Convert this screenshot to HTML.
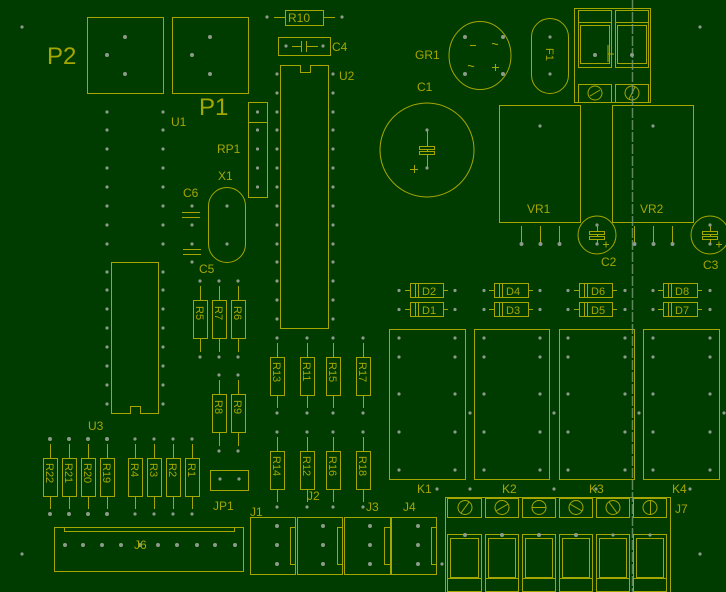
<!DOCTYPE html>
<html><head><meta charset="utf-8"><style>
html,body{margin:0;padding:0;background:#003c00;}
svg{display:block;}
text{font-family:"Liberation Sans",sans-serif;fill:#a6a600;}
</style></head><body>
<svg width="726" height="592" viewBox="0 0 726 592" xmlns="http://www.w3.org/2000/svg">
<rect width="726" height="592" fill="#003c00"/>
<g fill="none" stroke="#a6a600" stroke-width="1">
<!-- P2 P1 -->
<rect x="87.5" y="17.5" width="76" height="76"/>
<rect x="172.5" y="17.5" width="76" height="76"/>
<!-- R10 -->
<rect x="285.5" y="10.5" width="38" height="15"/>
<line x1="274" y1="17.5" x2="285" y2="17.5"/><line x1="323" y1="17.5" x2="335" y2="17.5"/>
<!-- C4 -->
<rect x="278.5" y="37.5" width="52" height="18"/>
<line x1="292" y1="46.5" x2="301" y2="46.5"/><line x1="301.5" y1="41" x2="301.5" y2="52"/><line x1="306.5" y1="41" x2="306.5" y2="52"/><line x1="307" y1="46.5" x2="318" y2="46.5"/>
<!-- U2 -->
<path d="M280.5 65.5 H300.5 V72.5 H310.5 V65.5 H328.5 V328.5 H280.5 Z"/>
<!-- RP1 -->
<rect x="248.5" y="102.5" width="19" height="95"/><line x1="248" y1="122.5" x2="267" y2="122.5"/>
<!-- X1 -->
<rect x="208.5" y="187.5" width="37" height="75" rx="18.5"/>
<!-- C6 C5 -->
<line x1="182" y1="212.5" x2="200" y2="212.5"/><line x1="182" y1="217.5" x2="200" y2="217.5"/>
<line x1="183" y1="249.5" x2="201" y2="249.5"/><line x1="183" y1="254.5" x2="201" y2="254.5"/>
<!-- U3 -->
<path d="M111.5 262.5 H158.5 V413.5 H140.5 V406.5 H130.5 V413.5 H111.5 Z"/>
<!-- resistors -->
<g id="res">
<path d="M200.5 286V300M200.5 338V352M219.5 286V300M219.5 338V352M238.5 286V300M238.5 338V352"/>
<rect x="193.5" y="300.5" width="14" height="38"/><rect x="212.5" y="300.5" width="14" height="38"/><rect x="231.5" y="300.5" width="14" height="38"/>
<path d="M219.5 380V394M219.5 432V446M238.5 380V394M238.5 432V446"/>
<rect x="212.5" y="394.5" width="14" height="38"/><rect x="231.5" y="394.5" width="14" height="38"/>
<path d="M277.5 343V357M277.5 395V408M307.5 343V357M307.5 395V408M333.5 343V357M333.5 395V408M363.5 343V357M363.5 395V408"/>
<rect x="270.5" y="357.5" width="14" height="38"/><rect x="300.5" y="357.5" width="14" height="38"/><rect x="326.5" y="357.5" width="14" height="38"/><rect x="356.5" y="357.5" width="14" height="38"/>
<path d="M277.5 437V451M277.5 489V502M307.5 437V451M307.5 489V502M333.5 437V451M333.5 489V502M363.5 437V451M363.5 489V502"/>
<rect x="270.5" y="451.5" width="14" height="38"/><rect x="300.5" y="451.5" width="14" height="38"/><rect x="326.5" y="451.5" width="14" height="38"/><rect x="356.5" y="451.5" width="14" height="38"/>
<path d="M50.5 444V458M50.5 496V509M69.5 444V458M69.5 496V509M88.5 444V458M88.5 496V509M107.5 444V458M107.5 496V509M135.5 444V458M135.5 496V509M154.5 444V458M154.5 496V509M173.5 444V458M173.5 496V509M192.5 444V458M192.5 496V509"/>
<rect x="43.5" y="458.5" width="14" height="38"/><rect x="62.5" y="458.5" width="14" height="38"/><rect x="81.5" y="458.5" width="14" height="38"/><rect x="100.5" y="458.5" width="14" height="38"/>
<rect x="128.5" y="458.5" width="14" height="38"/><rect x="147.5" y="458.5" width="14" height="38"/><rect x="166.5" y="458.5" width="14" height="38"/><rect x="185.5" y="458.5" width="14" height="38"/>
</g>
<!-- JP1 -->
<rect x="210.5" y="470.5" width="38" height="20"/>
<!-- J6 -->
<rect x="54.5" y="527.5" width="189" height="44"/><rect x="64.5" y="527.5" width="170" height="4"/>
<!-- J1-J4 -->
<rect x="250.5" y="517.5" width="45" height="57"/><rect x="290.5" y="527.5" width="5" height="37"/>
<rect x="297.5" y="517.5" width="45" height="57"/><rect x="337.5" y="527.5" width="5" height="37"/>
<rect x="344.5" y="517.5" width="46" height="57"/><rect x="384.5" y="527.5" width="6" height="37"/>
<rect x="391.5" y="517.5" width="45" height="57"/><rect x="431.5" y="527.5" width="5" height="37"/>
<!-- GR1 -->
<ellipse cx="480" cy="55.5" rx="31" ry="34"/>
<path d="M470 45.5h6M468 66c2-2 4 2 6 0M492 67.5h7M495.5 64v7M492 44c2-2 4 2 6 0"/>
<!-- F1 -->
<rect x="531.5" y="18.5" width="37" height="75" rx="18.5"/>
<!-- top right connector -->
<rect x="574.5" y="8.5" width="76" height="94"/>
<rect x="578.5" y="10.5" width="33" height="57"/><line x1="578" y1="22.5" x2="611" y2="22.5"/><rect x="580.5" y="25.5" width="29" height="38"/>
<rect x="615.5" y="10.5" width="33" height="57"/><line x1="615" y1="22.5" x2="648" y2="22.5"/><rect x="617.5" y="25.5" width="29" height="38"/>
<rect x="578.5" y="84.5" width="33" height="18"/><rect x="615.5" y="84.5" width="33" height="18"/>
<circle cx="595" cy="93" r="7"/><line x1="590" y1="96" x2="600" y2="90"/>
<circle cx="632" cy="93" r="7"/><line x1="629" y1="99" x2="635" y2="87"/>
<path d="M608 45v17M608 54h6"/>
<!-- C1 -->
<circle cx="427" cy="150" r="47"/>
<line x1="427.5" y1="130" x2="427.5" y2="168"/>
<rect x="419.5" y="146.5" width="15" height="3" fill="#003c00"/><rect x="419.5" y="151.5" width="15" height="3" fill="#003c00"/>
<path d="M410 169.5h8M414.5 165v8"/>
<!-- VR1 VR2 -->
<rect x="499.5" y="105.5" width="81" height="117"/><rect x="612.5" y="105.5" width="81" height="117"/>
<path d="M521.5 226V244M540.5 226V244M559.5 226V244M634.5 226V244M653.5 226V244M672.5 226V244"/>
<!-- C2 C3 -->
<circle cx="597" cy="235" r="19"/><circle cx="710" cy="235" r="19"/>
<path d="M597.5 225V245M710.5 225V245"/>
<rect x="589.5" y="231.5" width="15" height="3" fill="#003c00"/><rect x="589.5" y="236.5" width="15" height="3" fill="#003c00"/>
<rect x="702.5" y="231.5" width="15" height="3" fill="#003c00"/><rect x="702.5" y="236.5" width="15" height="3" fill="#003c00"/>
<path d="M603 244.5h6M606 241.5v6M716 244.5h6M719 241.5v6"/>
<!-- diodes -->
<g>
<rect x="410.5" y="283.5" width="33" height="14"/><path d="M405 290.5h5M443 290.5h5M415.5 284v13M418.5 284v13"/>
<rect x="494.5" y="283.5" width="34" height="14"/><path d="M489 290.5h5M528 290.5h5M499.5 284v13M502.5 284v13"/>
<rect x="579.5" y="283.5" width="33" height="14"/><path d="M574 290.5h5M612 290.5h5M584.5 284v13M587.5 284v13"/>
<rect x="663.5" y="283.5" width="34" height="14"/><path d="M658 290.5h5M697 290.5h5M668.5 284v13M671.5 284v13"/>
<rect x="410.5" y="302.5" width="33" height="14"/><path d="M405 309.5h5M443 309.5h5M415.5 303v13M418.5 303v13"/>
<rect x="494.5" y="302.5" width="34" height="14"/><path d="M489 309.5h5M528 309.5h5M499.5 303v13M502.5 303v13"/>
<rect x="579.5" y="302.5" width="33" height="14"/><path d="M574 309.5h5M612 309.5h5M584.5 303v13M587.5 303v13"/>
<rect x="663.5" y="302.5" width="34" height="14"/><path d="M658 309.5h5M697 309.5h5M668.5 303v13M671.5 303v13"/>
</g>
<!-- relays -->
<rect x="389.5" y="329.5" width="76" height="150"/><rect x="474.5" y="329.5" width="75" height="150"/>
<rect x="559.5" y="329.5" width="75" height="150"/><rect x="643.5" y="329.5" width="76" height="150"/>
<!-- J7 -->
<rect x="445.5" y="497.5" width="225" height="96"/>
<g>
<rect x="447.5" y="498.5" width="34" height="19"/><rect x="485.5" y="498.5" width="33" height="19"/><rect x="522.5" y="498.5" width="33" height="19"/>
<rect x="559.5" y="498.5" width="33" height="19"/><rect x="596.5" y="498.5" width="33" height="19"/><rect x="633.5" y="498.5" width="33" height="19"/>
<circle cx="465" cy="507.5" r="7"/><line x1="461" y1="513" x2="469" y2="502"/>
<circle cx="502" cy="507.5" r="7"/><line x1="496" y1="511" x2="508" y2="504"/>
<circle cx="539" cy="507.5" r="7"/><line x1="532" y1="507.5" x2="546" y2="507.5"/>
<circle cx="576" cy="507.5" r="7"/><line x1="570" y1="504" x2="582" y2="511"/>
<circle cx="613" cy="507.5" r="7"/><line x1="609" y1="502" x2="617" y2="513"/>
<circle cx="650" cy="507.5" r="7"/><line x1="650.5" y1="500" x2="650.5" y2="515"/>
</g>
<g>
<rect x="447.5" y="534.5" width="34" height="57"/><rect x="450.5" y="538.5" width="28" height="39"/><line x1="447" y1="578.5" x2="481" y2="578.5"/>
<rect x="485.5" y="534.5" width="33" height="57"/><rect x="488.5" y="538.5" width="27" height="39"/><line x1="485" y1="578.5" x2="518" y2="578.5"/>
<rect x="522.5" y="534.5" width="33" height="57"/><rect x="525.5" y="538.5" width="27" height="39"/><line x1="522" y1="578.5" x2="555" y2="578.5"/>
<rect x="559.5" y="534.5" width="33" height="57"/><rect x="562.5" y="538.5" width="27" height="39"/><line x1="559" y1="578.5" x2="592" y2="578.5"/>
<rect x="596.5" y="534.5" width="33" height="57"/><rect x="599.5" y="538.5" width="27" height="39"/><line x1="596" y1="578.5" x2="629" y2="578.5"/>
<rect x="633.5" y="534.5" width="33" height="57"/><rect x="636.5" y="538.5" width="27" height="39"/><line x1="633" y1="578.5" x2="666" y2="578.5"/>
</g>
</g>
<!-- dashed vertical line -->
<line x1="632.5" y1="0" x2="632.5" y2="592" stroke="#7a9a7a" stroke-width="1.5" stroke-dasharray="10,2" opacity="0.8"/>
<!-- pads -->
<g fill="#8c9a8c">
<circle cx="22" cy="27" r="1.6"/><circle cx="22" cy="554" r="1.6"/><circle cx="700" cy="27" r="1.6"/><circle cx="700" cy="554" r="1.6"/><circle cx="442" cy="564" r="1.6"/>
<circle cx="125" cy="37" r="2"/><circle cx="107" cy="55" r="2"/><circle cx="125" cy="74" r="2"/>
<circle cx="210" cy="37" r="2"/><circle cx="192" cy="55" r="2"/><circle cx="210" cy="74" r="2"/>
<circle cx="267" cy="17" r="1.6"/><circle cx="342" cy="17" r="1.6"/><circle cx="286" cy="46" r="1.6"/><circle cx="323" cy="46" r="1.6"/>
<circle cx="257.5" cy="112" r="1.6"/><circle cx="257.5" cy="130" r="1.6"/><circle cx="257.5" cy="149" r="1.6"/><circle cx="257.5" cy="168" r="1.6"/><circle cx="257.5" cy="187" r="1.6"/>
<circle cx="227" cy="206" r="1.6"/><circle cx="227" cy="244" r="1.6"/>
<circle cx="192" cy="206" r="1.6"/><circle cx="192" cy="225" r="1.6"/><circle cx="192" cy="244" r="1.6"/><circle cx="192" cy="262" r="1.6"/>
<!-- U2 pins -->
<g>
<circle cx="277" cy="74" r="1.6"/><circle cx="277" cy="93" r="1.6"/><circle cx="277" cy="112" r="1.6"/><circle cx="277" cy="130" r="1.6"/><circle cx="277" cy="149" r="1.6"/><circle cx="277" cy="168" r="1.6"/><circle cx="277" cy="187" r="1.6"/><circle cx="277" cy="206" r="1.6"/><circle cx="277" cy="225" r="1.6"/><circle cx="277" cy="244" r="1.6"/><circle cx="277" cy="262" r="1.6"/><circle cx="277" cy="281" r="1.6"/><circle cx="277" cy="300" r="1.6"/><circle cx="277" cy="319" r="1.6"/>
<circle cx="333" cy="74" r="1.6"/><circle cx="333" cy="93" r="1.6"/><circle cx="333" cy="112" r="1.6"/><circle cx="333" cy="130" r="1.6"/><circle cx="333" cy="149" r="1.6"/><circle cx="333" cy="168" r="1.6"/><circle cx="333" cy="187" r="1.6"/><circle cx="333" cy="206" r="1.6"/><circle cx="333" cy="225" r="1.6"/><circle cx="333" cy="244" r="1.6"/><circle cx="333" cy="262" r="1.6"/><circle cx="333" cy="281" r="1.6"/><circle cx="333" cy="300" r="1.6"/><circle cx="333" cy="319" r="1.6"/>
</g>
<!-- U1 + U3 pins -->
<g>
<circle cx="107" cy="112" r="1.6"/><circle cx="107" cy="130" r="1.6"/><circle cx="107" cy="149" r="1.6"/><circle cx="107" cy="168" r="1.6"/><circle cx="107" cy="187" r="1.6"/><circle cx="107" cy="206" r="1.6"/><circle cx="107" cy="225" r="1.6"/><circle cx="107" cy="244" r="1.6"/>
<circle cx="163" cy="112" r="1.6"/><circle cx="163" cy="130" r="1.6"/><circle cx="163" cy="149" r="1.6"/><circle cx="163" cy="168" r="1.6"/><circle cx="163" cy="187" r="1.6"/><circle cx="163" cy="206" r="1.6"/><circle cx="163" cy="225" r="1.6"/><circle cx="163" cy="244" r="1.6"/>
<circle cx="107" cy="272" r="1.6"/><circle cx="107" cy="290" r="1.6"/><circle cx="107" cy="309" r="1.6"/><circle cx="107" cy="328" r="1.6"/><circle cx="107" cy="347" r="1.6"/><circle cx="107" cy="366" r="1.6"/><circle cx="107" cy="385" r="1.6"/><circle cx="107" cy="404" r="1.6"/>
<circle cx="163" cy="272" r="1.6"/><circle cx="163" cy="290" r="1.6"/><circle cx="163" cy="309" r="1.6"/><circle cx="163" cy="328" r="1.6"/><circle cx="163" cy="347" r="1.6"/><circle cx="163" cy="366" r="1.6"/><circle cx="163" cy="385" r="1.6"/><circle cx="163" cy="404" r="1.6"/>
</g>
<!-- resistor pads -->
<g>
<circle cx="200" cy="281" r="1.6"/><circle cx="219" cy="281" r="1.6"/><circle cx="238" cy="281" r="1.6"/>
<circle cx="200" cy="357" r="1.6"/><circle cx="219" cy="357" r="1.6"/><circle cx="238" cy="357" r="1.6"/>
<circle cx="219" cy="375" r="1.6"/><circle cx="238" cy="375" r="1.6"/><circle cx="219" cy="451" r="1.6"/><circle cx="238" cy="451" r="1.6"/>
<circle cx="277" cy="338" r="1.6"/><circle cx="307" cy="338" r="1.6"/><circle cx="333" cy="338" r="1.6"/><circle cx="363" cy="338" r="1.6"/>
<circle cx="277" cy="413" r="1.6"/><circle cx="307" cy="413" r="1.6"/><circle cx="333" cy="413" r="1.6"/><circle cx="363" cy="413" r="1.6"/>
<circle cx="277" cy="432" r="1.6"/><circle cx="307" cy="432" r="1.6"/><circle cx="333" cy="432" r="1.6"/><circle cx="363" cy="432" r="1.6"/>
<circle cx="277" cy="507" r="1.6"/><circle cx="307" cy="507" r="1.6"/><circle cx="333" cy="507" r="1.6"/><circle cx="363" cy="507" r="1.6"/>
<circle cx="50" cy="439" r="2"/><circle cx="69" cy="439" r="2"/><circle cx="88" cy="439" r="2"/><circle cx="107" cy="439" r="2"/>
<circle cx="135" cy="439" r="1.6"/><circle cx="154" cy="439" r="1.6"/><circle cx="173" cy="439" r="1.6"/><circle cx="192" cy="439" r="1.6"/>
<circle cx="50" cy="514" r="2"/><circle cx="69" cy="514" r="2"/><circle cx="88" cy="514" r="2"/><circle cx="107" cy="514" r="2"/>
<circle cx="135" cy="514" r="1.6"/><circle cx="154" cy="514" r="1.6"/><circle cx="173" cy="514" r="1.6"/><circle cx="192" cy="514" r="1.6"/>
<circle cx="220" cy="479" r="1.6"/><circle cx="239" cy="479" r="1.6"/>
</g>
<!-- J6 -->
<g>
<circle cx="65" cy="545" r="2"/><circle cx="83" cy="545" r="2"/><circle cx="102" cy="545" r="2"/><circle cx="121" cy="545" r="2"/><circle cx="140" cy="545" r="2"/><circle cx="158" cy="545" r="2"/><circle cx="177" cy="545" r="2"/><circle cx="197" cy="545" r="2"/><circle cx="215" cy="545" r="2"/><circle cx="235" cy="545" r="2"/>
</g>
<!-- J1-J4 -->
<g>
<circle cx="277" cy="526" r="2"/><circle cx="277" cy="545" r="2"/><circle cx="277" cy="564" r="2"/>
<circle cx="323" cy="526" r="2"/><circle cx="323" cy="545" r="2"/><circle cx="323" cy="564" r="2"/>
<circle cx="370" cy="526" r="2"/><circle cx="370" cy="545" r="2"/><circle cx="370" cy="564" r="2"/>
<circle cx="418" cy="526" r="2"/><circle cx="418" cy="545" r="2"/><circle cx="418" cy="564" r="2"/>
</g>
<!-- right side -->
<circle cx="465" cy="37" r="2"/><circle cx="503" cy="37" r="2"/><circle cx="465" cy="74" r="2"/><circle cx="503" cy="74" r="2"/>
<circle cx="550" cy="37" r="1.6"/><circle cx="550" cy="74" r="1.6"/>
<circle cx="595" cy="55" r="2"/><circle cx="632" cy="55" r="2"/>
<circle cx="427" cy="130" r="1.6"/><circle cx="427" cy="168" r="1.6"/>
<circle cx="540" cy="126" r="1.6"/><circle cx="653" cy="126" r="1.6"/>
<circle cx="521.5" cy="244" r="2"/><circle cx="540.5" cy="244" r="2"/><circle cx="559.5" cy="244" r="2"/>
<circle cx="634.5" cy="244" r="2"/><circle cx="653.5" cy="244" r="2"/><circle cx="672.5" cy="244" r="2"/>
<circle cx="597" cy="225" r="1.6"/><circle cx="597" cy="244" r="1.6"/><circle cx="710" cy="225" r="1.6"/><circle cx="710" cy="244" r="1.6"/>
<circle cx="399" cy="290.5" r="1.6"/><circle cx="455" cy="290.5" r="1.6"/><circle cx="484" cy="290.5" r="1.6"/><circle cx="540" cy="290.5" r="1.6"/><circle cx="568" cy="290.5" r="1.6"/><circle cx="625" cy="290.5" r="1.6"/><circle cx="653" cy="290.5" r="1.6"/><circle cx="710" cy="290.5" r="1.6"/>
<circle cx="399" cy="309.5" r="1.6"/><circle cx="455" cy="309.5" r="1.6"/><circle cx="484" cy="309.5" r="1.6"/><circle cx="540" cy="309.5" r="1.6"/><circle cx="568" cy="309.5" r="1.6"/><circle cx="625" cy="309.5" r="1.6"/><circle cx="653" cy="309.5" r="1.6"/><circle cx="710" cy="309.5" r="1.6"/>
<g>
<circle cx="399" cy="338" r="1.6"/><circle cx="399" cy="357" r="1.6"/><circle cx="399" cy="394" r="1.6"/><circle cx="399" cy="432" r="1.6"/><circle cx="399" cy="470" r="1.6"/>
<circle cx="455" cy="338" r="1.6"/><circle cx="455" cy="357" r="1.6"/><circle cx="455" cy="394" r="1.6"/><circle cx="455" cy="432" r="1.6"/><circle cx="455" cy="470" r="1.6"/>
<circle cx="484" cy="338" r="1.6"/><circle cx="484" cy="357" r="1.6"/><circle cx="484" cy="394" r="1.6"/><circle cx="484" cy="432" r="1.6"/><circle cx="484" cy="470" r="1.6"/>
<circle cx="540" cy="338" r="1.6"/><circle cx="540" cy="357" r="1.6"/><circle cx="540" cy="394" r="1.6"/><circle cx="540" cy="432" r="1.6"/><circle cx="540" cy="470" r="1.6"/>
<circle cx="568" cy="338" r="1.6"/><circle cx="568" cy="357" r="1.6"/><circle cx="568" cy="394" r="1.6"/><circle cx="568" cy="432" r="1.6"/><circle cx="568" cy="470" r="1.6"/>
<circle cx="625" cy="338" r="1.6"/><circle cx="625" cy="357" r="1.6"/><circle cx="625" cy="394" r="1.6"/><circle cx="625" cy="432" r="1.6"/><circle cx="625" cy="470" r="1.6"/>
<circle cx="653" cy="338" r="1.6"/><circle cx="653" cy="357" r="1.6"/><circle cx="653" cy="394" r="1.6"/><circle cx="653" cy="432" r="1.6"/><circle cx="653" cy="470" r="1.6"/>
<circle cx="710" cy="338" r="1.6"/><circle cx="710" cy="357" r="1.6"/><circle cx="710" cy="394" r="1.6"/><circle cx="710" cy="432" r="1.6"/><circle cx="710" cy="470" r="1.6"/>
<circle cx="470" cy="413" r="1.6"/><circle cx="554" cy="413" r="1.6"/><circle cx="639" cy="413" r="1.6"/><circle cx="724" cy="413" r="1.6"/>
<circle cx="437" cy="489" r="1.6"/><circle cx="470" cy="489" r="1.6"/><circle cx="554" cy="489" r="1.6"/><circle cx="596" cy="489" r="1.6"/><circle cx="690" cy="489" r="1.6"/>
</g>
<circle cx="465" cy="535" r="2"/><circle cx="502" cy="535" r="2"/><circle cx="539" cy="535" r="2"/><circle cx="576" cy="535" r="2"/><circle cx="613" cy="535" r="1.6"/><circle cx="650" cy="535" r="1.6"/>
</g>
<!-- labels -->
<g font-size="12">
<text x="47" y="64" font-size="24">P2</text>
<text x="199" y="115" font-size="24">P1</text>
<text x="288" y="22" font-size="12">R10</text>
<text x="332" y="51">C4</text>
<text x="339" y="80">U2</text>
<text x="171" y="126">U1</text>
<text x="217" y="153">RP1</text>
<text x="218" y="180">X1</text>
<text x="183" y="197">C6</text>
<text x="199" y="273">C5</text>
<text x="88" y="430">U3</text>
<text x="213" y="510">JP1</text>
<text x="250" y="516">J1</text>
<text x="307" y="500">J2</text>
<text x="366" y="511">J3</text>
<text x="403" y="511">J4</text>
<text x="134" y="549">J6</text>
<text x="415" y="59">GR1</text>
<text x="417" y="91">C1</text>
<text x="527" y="213">VR1</text>
<text x="640" y="213">VR2</text>
<text x="601" y="266">C2</text>
<text x="703" y="269">C3</text>
<text x="675" y="513">J7</text>
<text x="417" y="493">K1</text>
<text x="502" y="493">K2</text>
<text x="589" y="493">K3</text>
<text x="672" y="493">K4</text>
<g font-size="11">
<text x="422" y="295">D2</text><text x="506" y="295">D4</text><text x="591" y="295">D6</text><text x="675" y="295">D8</text>
<text x="422" y="314">D1</text><text x="506" y="314">D3</text><text x="591" y="314">D5</text><text x="675" y="314">D7</text>
</g>
<g font-size="11">
<text transform="translate(196,306) rotate(90)">R5</text>
<text transform="translate(215,306) rotate(90)">R7</text>
<text transform="translate(234,306) rotate(90)">R6</text>
<text transform="translate(215,400) rotate(90)">R8</text>
<text transform="translate(234,400) rotate(90)">R9</text>
<text transform="translate(273,362) rotate(90)">R13</text>
<text transform="translate(303,362) rotate(90)">R11</text>
<text transform="translate(329,362) rotate(90)">R15</text>
<text transform="translate(359,362) rotate(90)">R17</text>
<text transform="translate(273,456) rotate(90)">R14</text>
<text transform="translate(303,456) rotate(90)">R12</text>
<text transform="translate(329,456) rotate(90)">R16</text>
<text transform="translate(359,456) rotate(90)">R18</text>
<text transform="translate(46,463) rotate(90)">R22</text>
<text transform="translate(65,463) rotate(90)">R21</text>
<text transform="translate(84,463) rotate(90)">R20</text>
<text transform="translate(103,463) rotate(90)">R19</text>
<text transform="translate(131,463) rotate(90)">R4</text>
<text transform="translate(150,463) rotate(90)">R3</text>
<text transform="translate(169,463) rotate(90)">R2</text>
<text transform="translate(188,463) rotate(90)">R1</text>
<text transform="translate(546,48) rotate(90)">F1</text>
</g>
</g>
</svg>
</body></html>
